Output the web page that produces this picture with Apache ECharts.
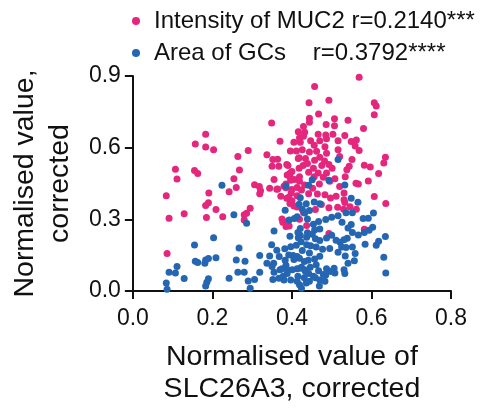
<!DOCTYPE html>
<html>
<head>
<meta charset="utf-8">
<script src="https://cdn.jsdelivr.net/npm/echarts@6/dist/echarts.min.js"></script>
<style>html,body{margin:0;padding:0;background:#fff}#chart{width:483px;height:410px}</style>
</head>
<body>
<div id="chart"></div>
<script>
const seriesNames = ['Intensity of MUC2 r=0.2140***', 'Area of GCs    r=0.3792****'];
const xTicks = [0.0, 0.2, 0.4, 0.6, 0.8];
const yTicks = [0.0, 0.3, 0.6, 0.9];
const xTitle = 'Normalised value of\nSLC26A3, corrected';
const yTitle = 'Normalised value,\ncorrected';

const mucPoints = [[0.569,0.895],[0.457,0.856],[0.493,0.799],[0.443,0.788],[0.607,0.788],[0.612,0.774],[0.607,0.738],[0.467,0.741],[0.444,0.723],[0.444,0.706],[0.507,0.721],[0.507,0.692],[0.541,0.715],[0.580,0.680],[0.486,0.697],[0.349,0.703],[0.183,0.656],[0.157,0.615],[0.183,0.603],[0.203,0.591],[0.370,0.627],[0.290,0.588],[0.337,0.570],[0.264,0.563],[0.352,0.550],[0.416,0.667],[0.432,0.665],[0.419,0.640],[0.429,0.648],[0.429,0.689],[0.405,0.623],[0.421,0.623],[0.466,0.656],[0.485,0.653],[0.503,0.656],[0.533,0.651],[0.516,0.629],[0.549,0.626],[0.562,0.632],[0.559,0.607],[0.569,0.588],[0.447,0.629],[0.456,0.610],[0.470,0.629],[0.487,0.637],[0.483,0.604],[0.396,0.586],[0.411,0.586],[0.426,0.591],[0.444,0.582],[0.462,0.585],[0.516,0.591],[0.520,0.563],[0.487,0.577],[0.470,0.560],[0.482,0.544],[0.457,0.547],[0.475,0.525],[0.493,0.530],[0.501,0.514],[0.434,0.555],[0.418,0.558],[0.428,0.525],[0.418,0.514],[0.364,0.552],[0.367,0.522],[0.390,0.525],[0.551,0.550],[0.544,0.522],[0.538,0.508],[0.582,0.526],[0.597,0.519],[0.635,0.560],[0.631,0.536],[0.618,0.492],[0.534,0.478],[0.561,0.451],[0.592,0.460],[0.400,0.500],[0.395,0.478],[0.406,0.467],[0.419,0.478],[0.442,0.497],[0.456,0.478],[0.466,0.494],[0.479,0.476],[0.487,0.494],[0.495,0.459],[0.508,0.470],[0.385,0.448],[0.107,0.510],[0.155,0.504],[0.163,0.492],[0.268,0.506],[0.350,0.522],[0.111,0.469],[0.254,0.470],[0.355,0.467],[0.306,0.445],[0.318,0.437],[0.321,0.420],[0.319,0.407],[0.260,0.433],[0.242,0.415],[0.344,0.430],[0.362,0.426],[0.191,0.410],[0.084,0.399],[0.190,0.369],[0.183,0.358],[0.209,0.341],[0.295,0.346],[0.286,0.325],[0.280,0.319],[0.129,0.323],[0.091,0.305],[0.185,0.308],[0.226,0.311],[0.280,0.297],[0.377,0.288],[0.086,0.157],[0.387,0.530],[0.395,0.493],[0.416,0.555],[0.388,0.486],[0.397,0.464],[0.419,0.459],[0.385,0.432],[0.398,0.410],[0.413,0.399],[0.387,0.388],[0.395,0.366],[0.413,0.352],[0.385,0.270],[0.393,0.272],[0.567,0.448],[0.607,0.396],[0.636,0.366],[0.582,0.259],[0.520,0.437],[0.531,0.410],[0.531,0.382],[0.400,0.425],[0.413,0.433],[0.432,0.444],[0.452,0.430],[0.464,0.406],[0.483,0.403],[0.497,0.389],[0.511,0.397],[0.533,0.370],[0.546,0.353],[0.562,0.342],[0.530,0.342],[0.515,0.351],[0.372,0.397],[0.392,0.392],[0.400,0.378],[0.405,0.356],[0.390,0.293],[0.375,0.301],[0.437,0.274],[0.493,0.241],[0.364,0.427],[0.380,0.439],[0.439,0.534],[0.454,0.514],[0.469,0.448],[0.442,0.407],[0.424,0.423],[0.474,0.362],[0.493,0.349],[0.459,0.341],[0.429,0.329],[0.419,0.300]];

const gcPoints = [[0.224,0.443],[0.254,0.319],[0.286,0.284],[0.355,0.251],[0.203,0.223],[0.155,0.193],[0.267,0.180],[0.349,0.194],[0.362,0.171],[0.368,0.144],[0.319,0.149],[0.344,0.147],[0.337,0.116],[0.350,0.103],[0.157,0.125],[0.163,0.119],[0.183,0.130],[0.190,0.136],[0.181,0.116],[0.209,0.139],[0.260,0.130],[0.282,0.125],[0.111,0.103],[0.091,0.078],[0.107,0.075],[0.264,0.078],[0.280,0.078],[0.319,0.078],[0.129,0.052],[0.242,0.053],[0.190,0.051],[0.186,0.037],[0.183,0.021],[0.084,0.034],[0.086,0.007],[0.290,0.042],[0.306,0.048],[0.295,0.012],[0.352,0.048],[0.367,0.053],[0.378,0.062],[0.385,0.440],[0.421,0.390],[0.418,0.363],[0.383,0.338],[0.413,0.311],[0.393,0.297],[0.421,0.262],[0.415,0.245],[0.395,0.229],[0.416,0.223],[0.382,0.177],[0.397,0.185],[0.403,0.149],[0.413,0.144],[0.354,0.116],[0.385,0.108],[0.370,0.089],[0.388,0.073],[0.401,0.089],[0.415,0.062],[0.421,0.095],[0.419,0.026],[0.516,0.550],[0.451,0.466],[0.493,0.464],[0.442,0.443],[0.533,0.444],[0.549,0.388],[0.566,0.371],[0.605,0.327],[0.579,0.303],[0.592,0.305],[0.552,0.328],[0.536,0.328],[0.603,0.267],[0.594,0.254],[0.582,0.245],[0.567,0.234],[0.635,0.228],[0.618,0.208],[0.612,0.191],[0.584,0.196],[0.541,0.264],[0.549,0.278],[0.552,0.245],[0.539,0.221],[0.531,0.215],[0.511,0.212],[0.521,0.204],[0.536,0.182],[0.559,0.157],[0.534,0.147],[0.557,0.127],[0.541,0.116],[0.631,0.141],[0.636,0.075],[0.531,0.089],[0.533,0.073],[0.506,0.095],[0.508,0.075],[0.485,0.067],[0.469,0.021],[0.436,0.034],[0.442,0.073],[0.432,0.089],[0.436,0.365],[0.456,0.373],[0.470,0.365],[0.439,0.301],[0.432,0.326],[0.406,0.304],[0.500,0.309],[0.485,0.299],[0.467,0.291],[0.454,0.279],[0.470,0.260],[0.457,0.255],[0.439,0.244],[0.516,0.315],[0.526,0.288],[0.421,0.233],[0.437,0.225],[0.451,0.238],[0.459,0.219],[0.470,0.211],[0.487,0.222],[0.500,0.233],[0.411,0.192],[0.423,0.206],[0.437,0.194],[0.447,0.189],[0.426,0.170],[0.444,0.159],[0.461,0.184],[0.477,0.175],[0.495,0.178],[0.516,0.162],[0.525,0.184],[0.552,0.184],[0.383,0.129],[0.392,0.151],[0.405,0.132],[0.419,0.137],[0.431,0.123],[0.441,0.129],[0.457,0.134],[0.470,0.145],[0.375,0.093],[0.390,0.088],[0.413,0.093],[0.424,0.099],[0.434,0.082],[0.446,0.099],[0.461,0.110],[0.467,0.085],[0.479,0.069],[0.487,0.093],[0.498,0.082],[0.380,0.046],[0.397,0.046],[0.413,0.041],[0.431,0.055],[0.444,0.041],[0.459,0.055],[0.470,0.046],[0.483,0.041],[0.424,0.011],[0.454,0.062],[0.426,0.342],[0.444,0.337],[0.355,0.079]];

const FONT = '"Liberation Sans", Arial, sans-serif';
const TXT = '#111';
const chart = echarts.init(document.getElementById('chart'), null, {renderer: 'canvas'});
const axisCommon = {
  axisLine: {show: true, onZero: false, lineStyle: {color: TXT, width: 2}},
  axisTick: {show: true, length: 8, lineStyle: {color: TXT, width: 2}},
  splitLine: {show: false},
  axisLabel: {color: TXT, fontFamily: FONT, fontSize: 23}
};
chart.setOption({
  animation: false,
  backgroundColor: '#fff',
  grid: {left: 126, right: 32, top: 76, bottom: 115, containLabel: false},
  legend: {
    orient: 'vertical', left: 127, top: 2, itemGap: 4,
    icon: 'circle', itemWidth: 8, itemHeight: 8,
    textStyle: {color: TXT, fontFamily: FONT, fontSize: 24, lineHeight: 28, padding: [0, 0, 0, 9]},
    data: seriesNames
  },
  xAxis: Object.assign({}, axisCommon, {
    type: 'value', min: xTicks[0], max: xTicks[xTicks.length - 1], interval: 0.2,
    name: xTitle, nameLocation: 'middle', nameGap: 50,
    nameTextStyle: {color: TXT, fontFamily: FONT, fontSize: 28.5, lineHeight: 32},
    axisLabel: Object.assign({}, axisCommon.axisLabel, {margin: 16, formatter: v => v.toFixed(1)})
  }),
  yAxis: Object.assign({}, axisCommon, {
    type: 'value', min: yTicks[0], max: yTicks[yTicks.length - 1], interval: 0.3,
    name: yTitle, nameLocation: 'middle', nameGap: 47,
    nameTextStyle: {color: TXT, fontFamily: FONT, fontSize: 28.5, lineHeight: 35},
    axisLabel: Object.assign({}, axisCommon.axisLabel, {margin: 12, formatter: v => v.toFixed(1)})
  }),
  series: [
    {name: seriesNames[0], type: 'scatter', data: mucPoints, symbol: 'circle', symbolSize: 7,
     itemStyle: {color: '#E4267D', opacity: 1}},
    {name: seriesNames[1], type: 'scatter', data: gcPoints, symbol: 'circle', symbolSize: 7,
     itemStyle: {color: '#2566B2', opacity: 1}}
  ]
});
</script>
</body>
</html>
